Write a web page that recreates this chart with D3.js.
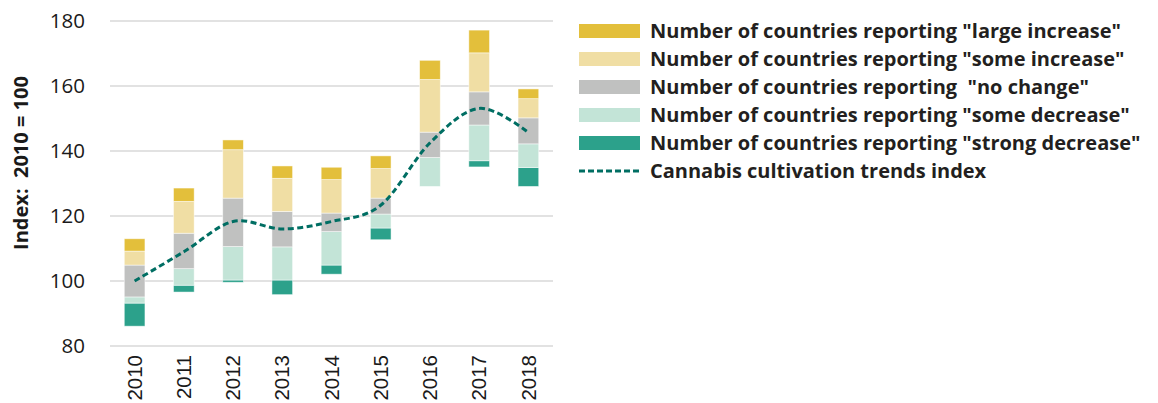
<!DOCTYPE html>
<html>
<head>
<meta charset="utf-8">
<style>
  body { margin: 0; background: #fff; }
  .grid line { stroke: #d9d9d9; stroke-width: 1.5px; }
  .ytick { font: 20.5px "Open Sans", sans-serif; fill: #1a1a1a; }
  .xtick { font: 20.5px "Liberation Sans", Arial, sans-serif; fill: #1a1a1a; }
  .legend text { font: bold 20px "Open Sans", sans-serif; fill: #231f20; }
</style>
</head>
<body>
<script src="https://cdn.jsdelivr.net/npm/d3@7"></script>
<script>
var years = ["2010","2011","2012","2013","2014","2015","2016","2017","2018"];
// bottom of each floating bar (index value)
var base           = [86.1, 96.6, 99.6, 95.8, 102.1, 112.7, 129.1, 135.1, 129.1];
var strongDecrease = [7.1, 2.1, 0.7, 4.5, 2.8, 3.6, 0, 1.9, 5.8];
var someDecrease   = [1.9, 5.1, 10.3, 10.2, 10.3, 4.3, 8.9, 11.0, 7.3];
var noChange       = [9.8, 10.9, 14.9, 10.9, 5.7, 4.9, 7.8, 10.2, 8.0];
var someIncrease   = [4.3, 9.8, 14.9, 10.2, 10.3, 9.1, 16.2, 12.0, 5.9];
var largeIncrease  = [3.8, 4.1, 3.0, 3.8, 3.8, 3.9, 5.9, 7.0, 3.0];
var trendIndex     = [100, 109, 118.3, 116, 118.3, 123.3, 142.5, 153.1, 145.7];
var yTicks = [80, 100, 120, 140, 160, 180];

var keys = ["base","strongDecrease","someDecrease","noChange","someIncrease","largeIncrease"];
var colors = {
  strongDecrease: "#2ca18b",
  someDecrease: "#c3e4d7",
  noChange: "#c0c1c0",
  someIncrease: "#f0dea4",
  largeIncrease: "#e3bf3b"
};
var legendItems = [
  ["largeIncrease", 'Number of countries reporting "large increase"'],
  ["someIncrease", 'Number of countries reporting "some increase"'],
  ["noChange", 'Number of countries reporting  "no change"'],
  ["someDecrease", 'Number of countries reporting "some decrease"'],
  ["strongDecrease", 'Number of countries reporting "strong decrease"'],
  ["line", "Cannabis cultivation trends index"]
];

var table = years.map(function(y, i) {
  return {year: y, base: base[i], strongDecrease: strongDecrease[i], someDecrease: someDecrease[i],
          noChange: noChange[i], someIncrease: someIncrease[i], largeIncrease: largeIncrease[i]};
});

var width = 1158, height = 403;
var svg = d3.select("body").append("svg")
  .attr("width", width).attr("height", height);

var x = d3.scaleBand().domain(years).range([110, 553]).paddingInner(0.58).paddingOuter(0.29);
var y = d3.scaleLinear().domain([80, 180]).range([346, 21]);

// gridlines
svg.append("g").attr("class", "grid")
  .selectAll("line").data(yTicks).join("line")
  .attr("x1", 110).attr("x2", 553)
  .attr("y1", d => y(d)).attr("y2", d => y(d));

// y tick labels
svg.append("g").selectAll("text").data(yTicks).join("text")
  .attr("class", "ytick")
  .attr("x", 85).attr("y", d => y(d))
  .attr("dy", "0.35em").attr("text-anchor", "end")
  .text(d => d);

// y title
svg.append("text")
  .attr("transform", "translate(21,163) rotate(-90)")
  .attr("text-anchor", "middle")
  .attr("dy", "0.35em")
  .style("font", "bold 20px 'Open Sans', sans-serif")
  .style("fill", "#1a1a1a")
  .style("white-space", "pre")
  .text("Index:  2010 = 100");

// x tick labels
svg.append("g").selectAll("text").data(years).join("text")
  .attr("class", "xtick")
  .attr("transform", d => "translate(" + (x(d) + x.bandwidth() / 2) + ",355) rotate(-90)")
  .attr("dy", "0.35em").attr("text-anchor", "end")
  .text(d => d);

// stacked bars (base series is invisible)
var series = d3.stack().keys(keys)(table);
svg.append("g").selectAll("g").data(series.slice(1)).join("g")
  .attr("fill", d => colors[d.key])
  .selectAll("rect").data(d => d).join("rect")
  .attr("x", d => x(d.data.year))
  .attr("width", x.bandwidth())
  .attr("y", d => y(d[1]))
  .attr("height", d => Math.max(0, y(d[0]) - y(d[1])))
  .attr("stroke", "#ffffff")
  .attr("stroke-opacity", 0.6)
  .attr("stroke-width", 0.8);

// index line
var line = d3.line()
  .x((d, i) => x(years[i]) + x.bandwidth() / 2)
  .y(d => y(d))
  .curve(d3.curveCardinal.tension(0));
svg.append("path")
  .datum(trendIndex)
  .attr("d", line)
  .attr("fill", "none")
  .attr("stroke", "#006e63")
  .attr("stroke-width", 3)
  .attr("stroke-dasharray", "6,3.5");

// legend
var legend = svg.append("g").attr("class", "legend")
  .selectAll("g").data(legendItems).join("g")
  .attr("transform", (d, i) => "translate(579," + (31 + 28 * i) + ")");
legend.filter(d => d[0] !== "line").append("rect")
  .attr("x", 0).attr("y", -7).attr("width", 61).attr("height", 14)
  .attr("fill", d => colors[d[0]]);
legend.filter(d => d[0] === "line").append("line")
  .attr("x1", 0).attr("x2", 61).attr("y1", 0).attr("y2", 0)
  .attr("stroke", "#006e63").attr("stroke-width", 3)
  .attr("stroke-dasharray", "6,3");
legend.append("text")
  .attr("x", 71).attr("dy", "0.35em")
  .style("white-space", "pre")
  .text(d => d[1]);
</script>
</body>
</html>
